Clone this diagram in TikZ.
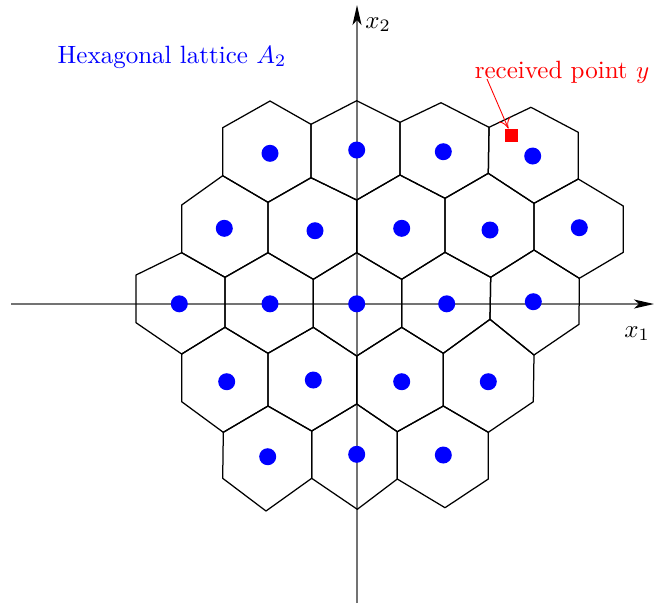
\documentclass[tikz,border=0pt]{standalone}
\usetikzlibrary{arrows.meta}
\begin{document}
\begin{tikzpicture}[x=0.4pt, y=-0.4pt,
    cell/.style={draw, line width=0.5pt, line join=round},
    axis/.style={draw=black!55, line width=0.6pt, -{Stealth[length=8pt, width=3.6pt, inset=2pt, black]}},
    latpt/.style={fill=blue},
    arrow/.style={->, >={To[length=4pt, width=5pt]}, red, line width=0.35pt},
    lbl/.style={anchor=base}
]
    \useasboundingbox (0,0) rectangle (654,603);
    % Achsen
    \coordinate (xl) at (11,304);
    \coordinate (xr) at (654,304);
    \coordinate (yb) at (357,603);
    \coordinate (yt) at (357,5);
    \draw[axis] (xl) -- (xr);
    \draw[axis] (yb) -- (yt);
    \node[lbl] (x1) at (637,337) {$x_1$};
    \node[lbl] (x2) at (378,28) {$x_2$};
    % Voronoi-Zellen, Reihe 1
    \draw[cell] (222.7,127.7) -- (270,101) -- (311,124.3) -- (311,177.7) -- (268,202.3) -- (222.7,175.7) -- cycle;
    \draw[cell] (311,124.3) -- (356.7,100.7) -- (400,122.3) -- (400,175) -- (356.7,200) -- (311,177.7) -- cycle;
    \draw[cell] (400,122.3) -- (441,102.7) -- (489,127.3) -- (488.3,173.3) -- (445,198.3) -- (400,175) -- cycle;
    \draw[cell] (489,127.3) -- (531,107.3) -- (578.3,132.3) -- (578.3,179) -- (534,203.3) -- (488.3,173.3) -- cycle;
    % Reihe 2
    \draw[cell] (181.7,205) -- (222.7,175.7) -- (268,202.3) -- (268,252.7) -- (225,277.3) -- (181.7,252.7) -- cycle;
    \draw[cell] (268,202.3) -- (311,177.7) -- (356.7,200) -- (356.7,252.7) -- (313.3,279.3) -- (268,252.7) -- cycle;
    \draw[cell] (356.7,200) -- (400,175) -- (445,198.3) -- (445,252.3) -- (401.7,279.3) -- (356.7,252.7) -- cycle;
    \draw[cell] (445,198.3) -- (488.3,173.3) -- (534,203.3) -- (534,250) -- (490.7,277.3) -- (445,252.3) -- cycle;
    \draw[cell] (534,203.3) -- (578.3,179) -- (623.3,206) -- (623.3,252.3) -- (579.3,278.3) -- (534,250) -- cycle;
    % Reihe 3
    \draw[cell] (136,275) -- (181.7,252.7) -- (225,277.3) -- (225,327.3) -- (181.7,354) -- (136,322.7) -- cycle;
    \draw[cell] (225,277.3) -- (268,252.7) -- (313.3,279.3) -- (313.3,327.3) -- (268,353.3) -- (225,327.3) -- cycle;
    \draw[cell] (313.3,279.3) -- (356.7,252.7) -- (401.7,279.3) -- (401.7,327.3) -- (356.7,356) -- (313.3,327.3) -- cycle;
    \draw[cell] (401.7,279.3) -- (445,252.3) -- (490.7,277.3) -- (490,319.3) -- (443.3,353.3) -- (401.7,327.3) -- cycle;
    \draw[cell] (490.7,277.3) -- (534,250) -- (579.3,278.3) -- (579,324.3) -- (534,355) -- (490,319.3) -- cycle;
    % Reihe 4
    \draw[cell] (181.7,354) -- (225,327.3) -- (268,353.3) -- (268,406) -- (223.3,432.3) -- (181.7,401.7) -- cycle;
    \draw[cell] (268,353.3) -- (313.3,327.3) -- (356.7,356) -- (356.7,404) -- (311.7,431) -- (268,406) -- cycle;
    \draw[cell] (356.7,356) -- (401.7,327.3) -- (443.3,353.3) -- (443.3,406) -- (397.3,431.7) -- (356.7,404) -- cycle;
    \draw[cell] (443.3,353.3) -- (490,319.3) -- (534,355) -- (533.3,401.7) -- (488.3,432.3) -- (443.3,406) -- cycle;
    % Reihe 5
    \draw[cell] (223.3,432.3) -- (268,406) -- (311.7,431) -- (311.7,478.3) -- (266,511) -- (222.7,478.3) -- cycle;
    \draw[cell] (311.7,431) -- (356.7,404) -- (397.3,431.7) -- (397.3,479) -- (357.3,509.3) -- (311.7,478.3) -- cycle;
    \draw[cell] (397.3,431.7) -- (443.3,406) -- (488.3,432.3) -- (488.3,479) -- (445,507.7) -- (397.3,479) -- cycle;
    % Gitterpunkte
    \foreach \x/\y in {270/153.3, 356.7/150, 443.3/151.7, 532.7/156,
                       224.3/228.3, 315/230.7, 401.7/228.3, 490/230, 579.3/227.7,
                       179.3/303.8, 270/303.8, 356.7/303.8, 446.7/303.8, 533.3/301.7,
                       226.7/381.7, 313.3/380, 401.7/381.7, 488.3/381.7,
                       267.7/456.7, 356.7/454.3, 443.3/455}
        \fill[latpt] (\x,\y) circle (3.4pt);
    % Beschriftung
    \node[lbl, blue] (title) at (172,63) {Hexagonal lattice $A_2$};
    \node[lbl, red] (recv) at (562,78) {received point $y$};
    \node[fill=red, minimum size=5pt, inner sep=0pt] (sq) at (511.3,135.3) {};
    \coordinate (ytail) at (487,79);
    \draw[arrow] (ytail) -- (sq);
\end{tikzpicture}
\end{document}
